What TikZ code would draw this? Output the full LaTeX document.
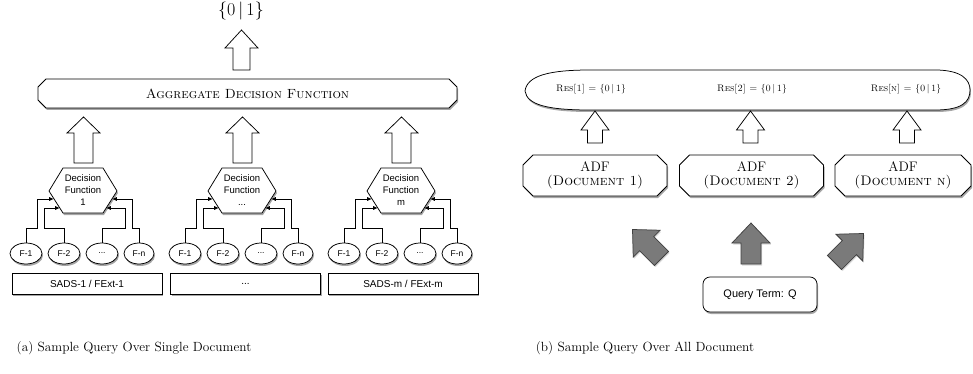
\documentclass[tikz,border=0pt]{standalone}
\usepackage{fontspec}
\setsansfont{Liberation Sans}
\usetikzlibrary{shapes.misc,shapes.geometric,shadows,arrows.meta}
\newcommand\tdots{...}
\newcommand\wblock[6]{%
  \draw[fill=white] (#1,#2) -- (#1+#5,#3) -- (#1+#6,#3) -- (#1+#6,#4) -- (#1-#6,#4) -- (#1-#6,#3) -- (#1-#5,#3) -- cycle;}
\newcommand\gblock[3]{%
  \begin{scope}[shift={(#1,#2)},rotate=#3]
  \draw[fill=black!52, draw=black!75, drop shadow={shadow xshift=1pt,shadow yshift=-1.5pt,opacity=0.3}]
    (0,-20.5) -- (19,-0.5) -- (10,-0.5) -- (10,20.5) -- (-10,20.5) -- (-10,-0.5) -- (-19,-0.5) -- cycle;
  \end{scope}}
\begin{document}
\begin{tikzpicture}[x=1pt,y=-1pt, line width=0.75pt,
  shad/.style={drop shadow={shadow xshift=1pt,shadow yshift=-2pt,opacity=0.35,fill=black}},
  cham/.style={chamfered rectangle, chamfered rectangle xsep=4pt, chamfered rectangle ysep=4pt, draw, fill=white, shad, inner sep=0pt},
  hextext/.style={align=center, font=\sffamily\fontsize{9.5}{12}\selectfont, inner sep=0pt},
  fel/.style={ellipse, draw, fill=white, shad, minimum width=32pt, minimum height=21pt, inner sep=0pt, font=\sffamily\fontsize{8.5}{10}\selectfont},
  bbox/.style={draw, fill=white, shad, minimum width=150pt, minimum height=21pt, inner sep=0pt, font=\sffamily\fontsize{10}{12}\selectfont},
  arr/.style={-{Latex[length=4.5pt,width=4pt]}, line width=0.6pt},
  restext/.style={font=\fontsize{9.5}{11}\selectfont, inner sep=0pt},
  adfbox/.style={cham, chamfered rectangle xsep=5pt, chamfered rectangle ysep=5pt, minimum height=41pt, align=center, font=\fontsize{13.8}{14}\selectfont},
  caption/.style={font=\fontsize{13.3}{16}\selectfont, inner sep=0pt}
]
\useasboundingbox (0,0) rectangle (973,374);

% ---------- left panel ----------
\node[font=\fontsize{18}{20}\selectfont, inner sep=0pt] (out) at (241,11) {\{0\,|\,1\}};
\wblock{241.5}{30}{48}{70}{16.5}{8.5}
\node[cham, minimum width=419pt, minimum height=29pt, font=\fontsize{13.3}{15}\selectfont] (adf) at (247.5,93.5) {\textsc{Aggregate Decision Function}};

\foreach \g/\cx/\lab in {1/83/1, 2/242/\tdots, 3/401/m} {
  \path[draw, fill=white, shad] (\cx-34,191) -- (\cx-20,168) -- (\cx+20,168) -- (\cx+34,191) -- (\cx+20,213) -- (\cx-20,213) -- cycle;
  \node[hextext] (hex\g) at (\cx,190.5) {Decision\\Function\\\lab};
  \wblock{\cx+0.5}{117}{133}{163}{16.5}{9.5}
  \node[fel] (fa\g) at (\cx-57,253.5) {F-1};
  \node[fel] (fb\g) at (\cx-19,253.5) {F-2};
  \node[fel] (fc\g) at (\cx+19,253.5) {\tdots};
  \node[fel, minimum width=30pt] (fd\g) at (\cx+56,253.5) {F-n};
  \coordinate (ha\g) at (\cx-29.3,199);
  \coordinate (hb\g) at (\cx-23.3,208);
  \coordinate (hc\g) at (\cx+23.3,208);
  \coordinate (hd\g) at (\cx+29.3,199);
  \draw[arr] (fa\g.north) |- (\cx-46,228) |- (ha\g);
  \draw[arr] (fb\g.north) |- (\cx-39,228) |- (hb\g);
  \draw[arr] (fc\g.north) |- (\cx+42,228) |- (hc\g);
  \draw[arr] (fd\g.north) |- (\cx+49,228) |- (hd\g);
}
\node[bbox] (sads1) at (87,283.5) {SADS-1 / FExt-1};
\node[bbox] (sads2) at (245.5,283.5) {\tdots};
\node[bbox] (sads3) at (403,283.5) {SADS-m / FExt-m};

% ---------- right panel ----------
\path[draw, fill=white, shad] (525,91) .. controls (527,76) and (548,70) .. (590,70) -- (935,70)
  .. controls (962,70) and (970,80) .. (970,90) .. controls (970,102) and (962,110) .. (935,110)
  -- (590,110) .. controls (548,110) and (527,105) .. (525,91) -- cycle;
\node[restext] (res1) at (591,89) {\textsc{Res[1] = \{0\,|\,1\}}};
\node[restext] (res2) at (752,89) {\textsc{Res[2] = \{0\,|\,1\}}};
\node[restext] (resn) at (906,89) {\textsc{Res[n] = \{0\,|\,1\}}};

\wblock{595}{111}{130}{143}{14}{7.5}
\wblock{750.5}{111}{130}{143}{14}{7.5}
\wblock{907}{111}{130}{143}{14}{7.5}

\node[adfbox, minimum width=144pt] (adf1) at (595,175.5) {ADF\\\textsc{(Document 1)}};
\node[adfbox, minimum width=144pt] (adf2) at (751.5,175.5) {ADF\\\textsc{(Document 2)}};
\node[adfbox, minimum width=136pt] (adfn) at (903,175.5) {ADF\\\textsc{(Document n)}};

\gblock{647}{244}{45}
\gblock{751}{243.5}{0}
\gblock{849}{248}{-45}

\node[draw, fill=white, shad, rounded corners=7pt, minimum width=114pt, minimum height=35pt, font=\sffamily\fontsize{11}{13}\selectfont] (query) at (760,294.5) {Query Term: Q};

% ---------- captions ----------
\node[caption] (capa) at (134,348) {(a) Sample Query Over Single Document};
\node[caption] (capb) at (645,348) {(b) Sample Query Over All Document};
\end{tikzpicture}
\end{document}
